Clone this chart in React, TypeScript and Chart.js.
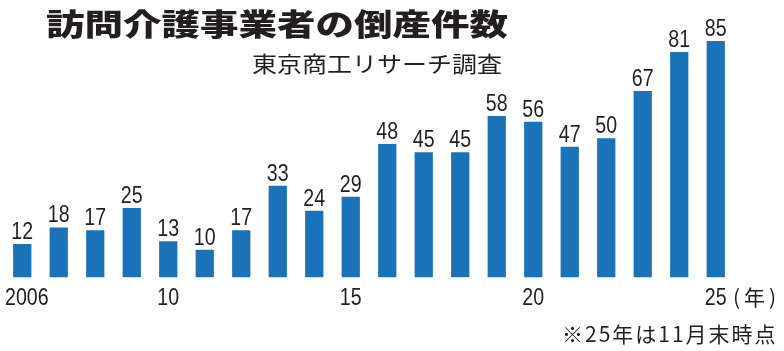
import { useEffect, useRef } from "react";
import { Chart, registerables } from "chart.js";

Chart.register(...registerables);

// ---- data ----
const years = [
  "2006", "2007", "2008", "2009", "2010", "2011", "2012", "2013", "2014", "2015",
  "2016", "2017", "2018", "2019", "2020", "2021", "2022", "2023", "2024", "2025",
];
const counts = [12, 18, 17, 25, 13, 10, 17, 33, 24, 29, 48, 45, 45, 58, 56, 47, 50, 67, 81, 85];
const tickLabels = [
  "2006", "", "", "", "10", "", "", "", "", "15",
  "", "", "", "", "20", "", "", "", "", "25",
];
const titleText = "訪問介護事業者の倒産件数";
const sourceText = "東京商工リサーチ調査";
const unitText = "(年)";
const noteText = "※25年は11月末時点";

// ---- styles ----
const BAR = "#1a73b8";
const INK = "#231f20";
const SANS = '"Liberation Sans", Arial, sans-serif';
const CJK = '"Noto Sans CJK JP", "Noto Sans CJK SC", sans-serif';
const SQUEEZE = 0.8;

function drawNarrow(ctx: any, text: string, cx: number, baseline: number, size: number) {
  ctx.save();
  ctx.font = `${size}px ${SANS}`;
  ctx.fillStyle = INK;
  ctx.textAlign = "center";
  ctx.textBaseline = "alphabetic";
  ctx.translate(cx, baseline);
  ctx.scale(SQUEEZE, 1);
  ctx.fillText(text, 0, 0);
  ctx.restore();
}

const narrowLabels = {
  id: "narrowLabels",
  afterDatasetsDraw(chart: any) {
    const ctx = chart.ctx;
    const meta = chart.getDatasetMeta(0);
    meta.data.forEach((el: any, i: number) => {
      drawNarrow(ctx, String(counts[i]), el.x, el.y - 5, 24.5);
    });
  },
  afterDraw(chart: any) {
    const ctx = chart.ctx;
    const xs = chart.scales.x;
    const area = chart.chartArea;
    ctx.save();
    ctx.font = `24.5px ${SANS}`;
    tickLabels.forEach((t, i) => {
      if (!t) return;
      const w = ctx.measureText(t).width * SQUEEZE;
      let cx = xs.getPixelForTick(i);
      cx = Math.max(cx, area.left + 1 + w / 2);
      drawNarrow(ctx, t, cx, area.bottom + 27.3, 24.5);
    });
    ctx.restore();
  },
};

export default function App() {
  const ref = useRef<HTMLCanvasElement | null>(null);

  useEffect(() => {
    if (!ref.current) return;
    const chart = new Chart(ref.current, {
      type: "bar",
      data: {
        labels: years,
        datasets: [
          {
            data: counts,
            backgroundColor: BAR,
            borderWidth: 0,
            categoryPercentage: 1,
            barPercentage: 0.5,
          },
        ],
      },
      options: {
        responsive: false,
        maintainAspectRatio: false,
        devicePixelRatio: 1,
        animation: false,
        layout: { padding: { left: 4, right: 50, top: 27, bottom: 0 } },
        plugins: {
          legend: { display: false },
          tooltip: { enabled: false },
          title: { display: false },
        },
        scales: {
          x: {
            grid: { display: false, drawTicks: false },
            border: { display: false },
            ticks: { display: false, autoSkip: false, maxRotation: 0 },
            afterFit: (scale: any) => {
              scale.height = 73.5;
              scale.paddingLeft = 0;
              scale.paddingRight = 0;
            },
          },
          y: { display: false, min: 0, max: 90 },
        },
      },
      plugins: [narrowLabels],
    });
    return () => chart.destroy();
  }, []);

  const base: any = {
    position: "absolute",
    whiteSpace: "nowrap",
    color: INK,
    fontFamily: CJK,
    margin: 0,
  };

  return (
    <div style={{ position: "fixed", left: 0, top: 0, width: 784, height: 351, background: "#fff", overflow: "hidden" }}>
      <canvas ref={ref} width={784} height={351} style={{ position: "absolute", left: 0, top: 0, width: 784, height: 351 }} />
      <div
        style={{
          ...base,
          left: 46,
          top: 8,
          fontSize: "38.5px",
          lineHeight: "38.5px",
          fontWeight: 900,
          transform: "scaleY(0.76)",
          transformOrigin: "top left",
        }}
      >
        {titleText}
      </div>
      <div
        style={{
          ...base,
          left: 252,
          top: 51.8,
          fontSize: "25px",
          lineHeight: "25px",
          fontWeight: 400,
          transform: "scaleY(0.88)",
          transformOrigin: "top left",
        }}
      >
        {sourceText}
      </div>
      <div style={{ ...base, left: 733, top: 286, fontSize: "21px", lineHeight: "21px", letterSpacing: "4px" }}>
        {unitText}
      </div>
      <div style={{ ...base, left: 562, top: 322.5, fontSize: "21px", lineHeight: "21px", letterSpacing: "2px" }}>
        {noteText}
      </div>
    </div>
  );
}
